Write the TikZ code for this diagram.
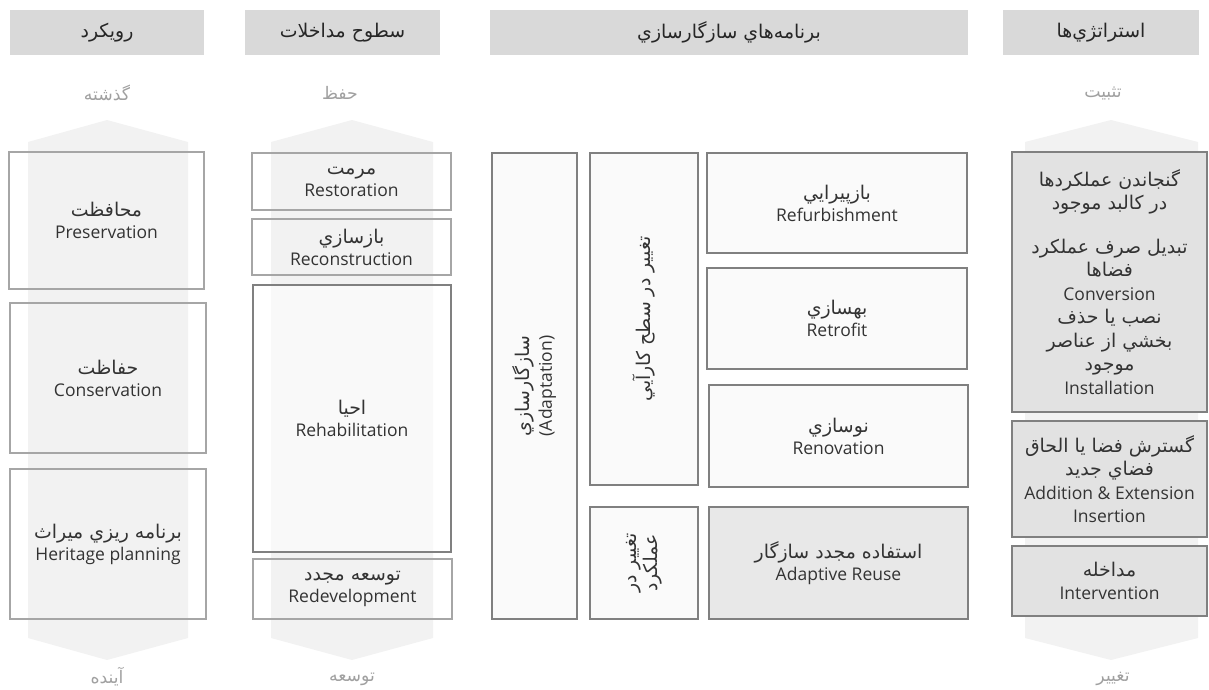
\documentclass[tikz,border=0pt]{standalone}
\usepackage{fontspec}
\setmainfont{Open Sans}
\newfontfamily\fa[Script=Arabic,Scale=1.08]{DejaVu Sans}
\TeXXeTstate=1
\newcommand\fatxt[1]{{\fa\beginR #1\endR}}

\definecolor{headgray}{HTML}{D9D9D9}
\definecolor{bandgray}{HTML}{F2F2F2}
\definecolor{linelight}{HTML}{A6A6A6}
\definecolor{linedark}{HTML}{808080}
\definecolor{txtgray}{HTML}{333333}
\definecolor{subgray}{HTML}{A0A0A0}
\definecolor{stratfill}{HTML}{E2E2E2}
\definecolor{reusefill}{HTML}{E8E8E8}

\begin{document}
\begin{tikzpicture}[
  x=1pt, y=-1pt,
  head/.style={fill=headgray, inner sep=0pt, minimum height=45pt, font=\fontsize{17.5}{20}\selectfont, text=black!85},
  sub/.style={inner sep=0pt, text=subgray, font=\fontsize{16}{18}\selectfont},
  band/.style={fill=bandgray},
  lite/.style={draw=linelight, line width=1.6pt, inner sep=0pt, align=center, text=txtgray, font=\fontsize{17.5}{22}\selectfont},
  dark/.style={lite, draw=linedark},
  strat/.style={dark, fill=stratfill, font=\fontsize{17.5}{23.5}\selectfont}
]
\useasboundingbox (0,0) rectangle (1209,690);

% --- background bands ---
\fill[band] (107,120) -- (188,142) -- (188,638) -- (107,660) -- (28,638) -- (28,142) -- cycle;
\fill[band] (352,120) -- (433,142) -- (433,638) -- (352,660) -- (271,638) -- (271,142) -- cycle;
\fill[band] (1111,120) -- (1198,142) -- (1198,638) -- (1111,660) -- (1025,638) -- (1025,142) -- cycle;

% --- headers ---
\node[head, minimum width=194pt] (h1) at (107,32.5)  {\fatxt{رويکرد}};
\node[head, minimum width=195pt] (h2) at (342.5,32.5) {\fatxt{سطوح مداخلات}};
\node[head, minimum width=478pt] (h3) at (729,32.5)  {\fatxt{برنامه‌هاي سازگارسازي}};
\node[head, minimum width=196pt] (h4) at (1101,32.5) {\fatxt{استراتژي‌ها}};

% --- band labels ---
\node[sub] (past)   at (107,93)   {\fatxt{گذشته}};
\node[sub] (keep)   at (340,93)   {\fatxt{حفظ}};
\node[sub] (fix)    at (1103,93)  {\fatxt{تثبيت}};
\node[sub] (future) at (107,677)  {\fatxt{آينده}};
\node[sub] (devel)  at (352,679)  {\fatxt{توسعه}};
\node[sub] (change) at (1113,679) {\fatxt{تغيير}};

% --- approach ---
\node[lite, minimum width=195pt, minimum height=137pt] (r1) at (106.5,220.5) {\fatxt{محافظت}\\Preservation};
\node[lite, minimum width=196pt, minimum height=150pt] (r2) at (108,378) {\fatxt{حفاظت}\\Conservation};
\node[lite, minimum width=196pt, minimum height=150pt] (r3) at (108,544) {\fatxt{برنامه ريزي ميراث}\\Heritage planning};

% --- intervention levels ---
\node[lite, minimum width=199pt, minimum height=57pt] (s1) at (351.5,181.5) {\fatxt{مرمت}\\Restoration};
\node[lite, minimum width=199pt, minimum height=56pt] (s2) at (351.5,247) {\fatxt{بازسازي}\\Reconstruction};
\node[dark, fill=white, fill opacity=0.55, text opacity=1, minimum width=198pt, minimum height=267pt] (s3) at (352,418.5) {\fatxt{احيا}\\Rehabilitation};
\node[lite, minimum width=199pt, minimum height=60pt] (s4) at (352.5,589) {\fatxt{توسعه مجدد}\\Redevelopment};

% --- adaptation programmes ---
\node[dark, fill=white!98!black, rotate=90, minimum width=466pt, minimum height=85pt] (b1) at (534.5,386) {\fatxt{سازگارسازي}\\(Adaptation)};
\node[dark, fill=white!98!black, rotate=90, minimum width=332pt, minimum height=108pt] (b2) at (644,319) {\fatxt{تغيير در سطح کارآيي}};
\node[dark, fill=white!98!black, rotate=90, minimum width=112pt, minimum height=108pt, font=\fontsize{17.5}{21}\selectfont] (b3) at (644,563) {\fatxt{تغيير در}\\\fatxt{عملکرد}};
\node[dark, fill=white!98!black, minimum width=260pt, minimum height=100pt] (b4) at (837,203) {\fatxt{بازپيرايي}\\Refurbishment};
\node[dark, fill=white!98!black, minimum width=260pt, minimum height=101pt] (b5) at (837,318.5) {\fatxt{بهسازي}\\Retrofit};
\node[dark, fill=white!98!black, minimum width=259pt, minimum height=102pt] (b6) at (838.5,436) {\fatxt{نوسازي}\\Renovation};
\node[dark, fill=reusefill, minimum width=259pt, minimum height=112pt] (b7) at (838.5,563) {\fatxt{استفاده مجدد سازگار}\\Adaptive Reuse};

% --- strategies ---
\node[strat, minimum width=195pt, minimum height=260pt] (t1) at (1109.5,282)
  {\fatxt{گنجاندن عملکردها}\\\fatxt{در کالبد موجود}\\[20pt]\fatxt{تبديل صرف عملکرد}\\\fatxt{فضاها}\\Conversion\\\fatxt{نصب يا حذف}\\\fatxt{بخشي از عناصر}\\\fatxt{موجود}\\Installation};
\node[strat, minimum width=195pt, minimum height=116pt] (t2) at (1109.5,479)
  {\fatxt{گسترش فضا يا الحاق}\\\fatxt{فضاي جديد}\\Addition \&\ Extension\\Insertion};
\node[strat, minimum width=195pt, minimum height=70pt] (t3) at (1109.5,581) {\fatxt{مداخله}\\Intervention};

\end{tikzpicture}
\end{document}
